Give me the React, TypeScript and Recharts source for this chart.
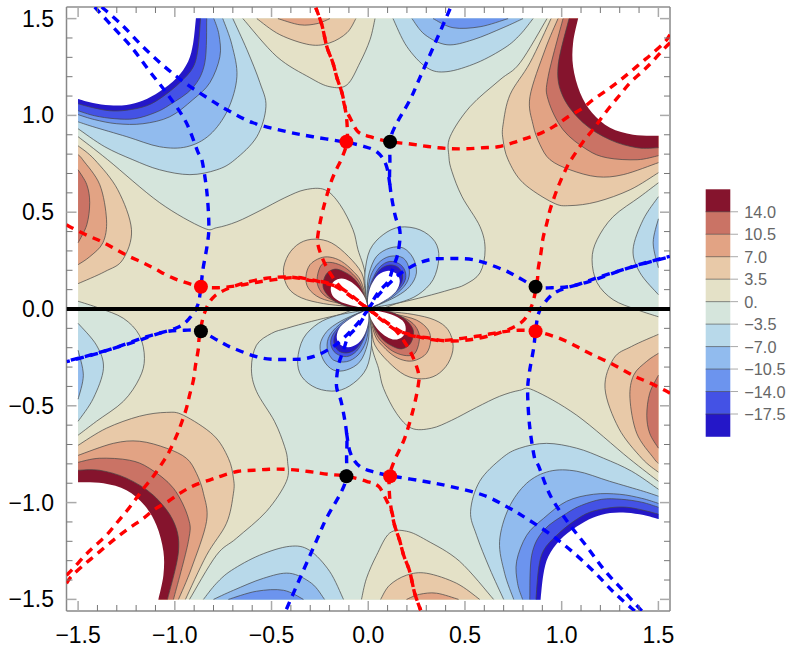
import { ScatterChart, Scatter, XAxis, YAxis } from 'recharts'

type Pt = number[]

// filled contour outlines, as [x, y]
const plotEdge: Pt[] = [[-1.5, 1.5], [1.5, 1.5]]
const plotRest: Pt[] = [[1.5, -1.5], [-1.5, -1.5]]
const cornerTL: Pt[] = [[-1.5, 1.5]]
const cornerTR: Pt[] = [[1.5, 1.5]]
const cornerBL: Pt[] = [[-1.5, -1.5]]
const cornerBR: Pt[] = [[1.5, -1.5]]
const holeTailTL: Pt[] = [[-.891, 1.505], [-1.505, 1.505], [-1.505, 1.085]]
const holeTailTR: Pt[] = [[1.505, .895], [1.505, 1.505], [1.085, 1.505]]
const holeTailBR: Pt[] = [[.891, -1.505], [1.505, -1.505], [1.505, -1.085]]
const holeTailBL: Pt[] = [[-1.505, -.895], [-1.505, -1.505], [-1.085, -1.505]]

const zeroUpper: Pt[] = [[-1.5, .89], [-1.347, .771], [-1.078, .549], [-.855, .42], [-.783, .42], [-.679, .451], [-.56, .508], [-.431, .575], [-.327, .616], [-.224, .616], [-.146, .539], [-.079, .41], [-.053, .306], [-.017, .187], [0, 0], [.164, .033], [.293, .064], [.423, .1], [.5, .126], [.578, .187], [.604, .306], [.578, .425], [.485, .58], [.433, .709], [.417, .787], [.423, .89], [.526, 1.045], [.681, 1.184], [.785, 1.272], [.924, 1.5]]
const zeroLower: Pt[] = [[1.5, -.89], [1.347, -.771], [1.078, -.549], [.855, -.42], [.783, -.42], [.679, -.451], [.56, -.508], [.431, -.575], [.327, -.616], [.224, -.616], [.146, -.539], [.079, -.41], [.053, -.306], [.017, -.187], [0, 0], [-.164, -.033], [-.293, -.064], [-.423, -.1], [-.5, -.126], [-.578, -.187], [-.604, -.306], [-.578, -.425], [-.485, -.58], [-.433, -.709], [-.417, -.787], [-.423, -.89], [-.526, -1.045], [-.681, -1.184], [-.785, -1.272], [-.924, -1.5]]

// top left blue corner and its twin at the bottom right
const tlM35: Pt[] = [[-1.5, .931], [-1.362, .838], [-1.217, .771], [-1.078, .719], [-.922, .694], [-.783, .719], [-.69, .771], [-.576, .89], [-.529, 1.045], [-.56, 1.169], [-.627, 1.339], [-.7, 1.5]]
const tlM7: Pt[] = [[-1.5, .967], [-1.424, .942], [-1.248, .89], [-1.078, .838], [-.938, .838], [-.819, .9], [-.726, 1.029], [-.679, 1.2], [-.705, 1.365], [-.752, 1.5]]
const tlM105: Pt[] = [[-1.5, 1.004], [-1.414, .978], [-1.3, .957], [-1.165, .957], [-1.026, .993], [-.907, 1.081], [-.819, 1.169], [-.767, 1.303], [-.772, 1.417], [-.798, 1.5]]
const tlM14: Pt[] = [[-1.5, 1.024], [-1.414, .998], [-1.31, .983], [-1.207, .983], [-1.103, 1.014], [-1.026, 1.055], [-.907, 1.143], [-.845, 1.272], [-.835, 1.5]]
const tlM175: Pt[] = [[-1.5, 1.06], [-1.424, 1.04], [-1.336, 1.024], [-1.248, 1.027], [-1.145, 1.05], [-1.062, 1.097], [-.974, 1.169], [-.907, 1.246], [-.881, 1.339], [-.867, 1.5]]
const tlHole: Pt[] = [[-1.5, 1.085], [-1.423, 1.064], [-1.336, 1.052], [-1.25, 1.054], [-1.164, 1.077], [-1.078, 1.124], [-.991, 1.193], [-.931, 1.279], [-.905, 1.374], [-.891, 1.5]]
const brM35: Pt[] = [[1.5, -.931], [1.362, -.838], [1.217, -.771], [1.078, -.719], [.922, -.694], [.783, -.719], [.69, -.771], [.576, -.89], [.529, -1.045], [.56, -1.169], [.627, -1.339], [.7, -1.5]]
const brM7: Pt[] = [[1.5, -.967], [1.424, -.942], [1.248, -.89], [1.078, -.838], [.938, -.838], [.819, -.9], [.726, -1.029], [.679, -1.2], [.705, -1.365], [.752, -1.5]]
const brM105: Pt[] = [[1.5, -1.004], [1.414, -.978], [1.3, -.957], [1.165, -.957], [1.026, -.993], [.907, -1.081], [.819, -1.169], [.767, -1.303], [.772, -1.417], [.798, -1.5]]
const brM14: Pt[] = [[1.5, -1.024], [1.414, -.998], [1.31, -.983], [1.207, -.983], [1.103, -1.014], [1.026, -1.055], [.907, -1.143], [.845, -1.272], [.835, -1.5]]
const brM175: Pt[] = [[1.5, -1.06], [1.424, -1.04], [1.336, -1.024], [1.248, -1.027], [1.145, -1.05], [1.062, -1.097], [.974, -1.169], [.907, -1.246], [.881, -1.339], [.867, -1.5]]
const brHole: Pt[] = [[1.5, -1.085], [1.423, -1.064], [1.336, -1.052], [1.25, -1.054], [1.164, -1.077], [1.078, -1.124], [.991, -1.193], [.931, -1.279], [.905, -1.374], [.891, -1.5]]

// top right red corner and its twin at the bottom left
const trP35: Pt[] = [[.945, 1.5], [.836, 1.272], [.733, 1.107], [.697, .952], [.697, .874], [.723, .771], [.8, .652], [.955, .549], [1.043, .534], [1.183, .554], [1.354, .616], [1.5, .704]]
const trP7: Pt[] = [[.981, 1.5], [.914, 1.339], [.836, 1.097], [.852, .952], [.888, .849], [.94, .771], [1.043, .719], [1.183, .683], [1.318, .694], [1.5, .756]]
const trP105: Pt[] = [[1.007, 1.5], [.93, 1.2], [.93, 1.081], [1.007, .926], [1.131, .823], [1.235, .781], [1.39, .771], [1.5, .792]]
const trP14: Pt[] = [[1.038, 1.5], [.981, 1.251], [1.007, 1.097], [1.111, .962], [1.25, .874], [1.39, .833], [1.5, .833]]
const trHole: Pt[] = [[1.085, 1.5], [1.059, 1.375], [1.059, 1.251], [1.095, 1.117], [1.157, 1.014], [1.25, .936], [1.369, .9], [1.5, .895]]
const blP35: Pt[] = [[-.945, -1.5], [-.836, -1.272], [-.733, -1.107], [-.697, -.952], [-.697, -.874], [-.723, -.771], [-.8, -.652], [-.955, -.549], [-1.043, -.534], [-1.183, -.554], [-1.354, -.616], [-1.5, -.704]]
const blP7: Pt[] = [[-.981, -1.5], [-.914, -1.339], [-.836, -1.097], [-.852, -.952], [-.888, -.849], [-.94, -.771], [-1.043, -.719], [-1.183, -.683], [-1.318, -.694], [-1.5, -.756]]
const blP105: Pt[] = [[-1.007, -1.5], [-.93, -1.2], [-.93, -1.081], [-1.007, -.926], [-1.131, -.823], [-1.235, -.781], [-1.39, -.771], [-1.5, -.792]]
const blP14: Pt[] = [[-1.038, -1.5], [-.981, -1.251], [-1.007, -1.097], [-1.111, -.962], [-1.25, -.874], [-1.39, -.833], [-1.5, -.833]]
const blHole: Pt[] = [[-1.085, -1.5], [-1.059, -1.375], [-1.059, -1.251], [-1.095, -1.117], [-1.157, -1.014], [-1.25, -.936], [-1.369, -.9], [-1.5, -.895]]

// lobes that sit on the frame edges
const leftP35: Pt[] = [[-1.5, .843], [-1.414, .771], [-1.295, .616], [-1.224, .41], [-1.269, .255], [-1.362, .193], [-1.5, .131]]
const leftP7: Pt[] = [[-1.5, .797], [-1.476, .771], [-1.388, .642], [-1.353, .461], [-1.372, .342], [-1.44, .27], [-1.5, .229]]
const leftP105: Pt[] = [[-1.5, .719], [-1.455, .642], [-1.44, .549], [-1.455, .435], [-1.5, .342]]
const rightP35: Pt[] = [[1.5, -.843], [1.414, -.771], [1.295, -.616], [1.224, -.41], [1.269, -.255], [1.362, -.193], [1.5, -.131]]
const rightP7: Pt[] = [[1.5, -.797], [1.476, -.771], [1.388, -.642], [1.353, -.461], [1.372, -.342], [1.44, -.27], [1.5, -.229]]
const rightP105: Pt[] = [[1.5, -.719], [1.455, -.642], [1.44, -.549], [1.455, -.435], [1.5, -.342]]

const rightZero: Pt[] = [[1.5, .652], [1.405, .58], [1.266, .477], [1.183, .358], [1.157, .255], [1.183, .136], [1.266, .048], [1.39, -.004], [1.5, -.04]]
const rightM35: Pt[] = [[1.5, .58], [1.421, .461], [1.369, .306], [1.405, .187], [1.5, .074]]
const rightM7: Pt[] = [[1.5, .466], [1.473, .342], [1.5, .213]]
const leftZero: Pt[] = [[-1.5, -.652], [-1.405, -.58], [-1.266, -.477], [-1.183, -.358], [-1.157, -.255], [-1.183, -.136], [-1.266, -.048], [-1.39, .004], [-1.5, .04]]
const leftM35: Pt[] = [[-1.5, -.58], [-1.421, -.461], [-1.369, -.306], [-1.405, -.187], [-1.5, -.074]]
const leftM7: Pt[] = [[-1.5, -.466], [-1.473, -.342], [-1.5, -.213]]

const topZero: Pt[] = [[-.648, 1.5], [-.472, 1.303], [-.302, 1.195], [-.198, 1.148], [-.11, 1.158], [-.043, 1.272], [.009, 1.391], [.035, 1.5]]
const topP35: Pt[] = [[-.576, 1.5], [-.457, 1.417], [-.302, 1.365], [-.198, 1.375], [-.11, 1.427], [-.064, 1.5]]
const topP7: Pt[] = [[-.467, 1.5], [-.353, 1.468], [-.265, 1.474], [-.198, 1.5]]
const topM35: Pt[] = [[.128, 1.5], [.2, 1.355], [.304, 1.246], [.407, 1.226], [.562, 1.272], [.707, 1.35], [.785, 1.417], [.852, 1.5]]
const topM7: Pt[] = [[.226, 1.5], [.293, 1.417], [.407, 1.365], [.542, 1.391], [.697, 1.453], [.8, 1.5]]
const topM105: Pt[] = [[.335, 1.5], [.438, 1.453], [.578, 1.458], [.723, 1.5]]
const botZero: Pt[] = [[.648, -1.5], [.472, -1.303], [.302, -1.195], [.198, -1.148], [.11, -1.158], [.043, -1.272], [-.009, -1.391], [-.035, -1.5]]
const botP35: Pt[] = [[.576, -1.5], [.457, -1.417], [.302, -1.365], [.198, -1.375], [.11, -1.427], [.064, -1.5]]
const botP7: Pt[] = [[.467, -1.5], [.353, -1.468], [.265, -1.474], [.198, -1.5]]
const botM35: Pt[] = [[-.128, -1.5], [-.2, -1.355], [-.304, -1.246], [-.407, -1.226], [-.562, -1.272], [-.707, -1.35], [-.785, -1.417], [-.852, -1.5]]
const botM7: Pt[] = [[-.226, -1.5], [-.293, -1.417], [-.407, -1.365], [-.542, -1.391], [-.697, -1.453], [-.8, -1.5]]
const botM105: Pt[] = [[-.335, -1.5], [-.438, -1.453], [-.578, -1.458], [-.723, -1.5]]

// the four petals round the origin
const ulP35: Pt[] = [[0, 0], [-.017, .1], [-.034, .186], [-.103, .272], [-.189, .341], [-.275, .361], [-.353, .341], [-.413, .28], [-.439, .194], [-.413, .108], [-.344, .057], [-.232, .028], [-.112, .014], [-.017, .003], [0, 0]]
const ulP7: Pt[] = [[0, 0], [-.034, .134], [-.077, .194], [-.138, .246], [-.198, .268], [-.249, .263], [-.301, .229], [-.322, .169], [-.31, .108], [-.249, .057], [-.146, .028], [-.034, .003], [0, 0]]
const ulP105: Pt[] = [[0, 0], [-.04, .126], [-.086, .186], [-.138, .224], [-.198, .241], [-.241, .229], [-.263, .169], [-.258, .114], [-.215, .062], [-.112, .017], [-.034, .003], [0, 0]]
const ulP14: Pt[] = [[0, 0], [-.034, .1], [-.077, .16], [-.129, .194], [-.172, .206], [-.212, .186], [-.232, .143], [-.229, .1], [-.189, .052], [-.12, .017], [-.052, .005], [0, 0]]
const ulHole: Pt[] = [[0, 0], [-.017, .057], [-.052, .108], [-.095, .143], [-.138, .158], [-.177, .143], [-.194, .103], [-.177, .06], [-.12, .028], [-.052, .01], [0, 0]]
const lrP35: Pt[] = [[0, 0], [.017, -.1], [.034, -.186], [.103, -.272], [.189, -.341], [.275, -.361], [.353, -.341], [.413, -.28], [.439, -.194], [.413, -.108], [.344, -.057], [.232, -.028], [.112, -.014], [.017, -.003], [0, 0]]
const lrP7: Pt[] = [[0, 0], [.034, -.134], [.077, -.194], [.138, -.246], [.198, -.268], [.249, -.263], [.301, -.229], [.322, -.169], [.31, -.108], [.249, -.057], [.146, -.028], [.034, -.003], [0, 0]]
const lrP105: Pt[] = [[0, 0], [.04, -.126], [.086, -.186], [.138, -.224], [.198, -.241], [.241, -.229], [.263, -.169], [.258, -.114], [.215, -.062], [.112, -.017], [.034, -.003], [0, 0]]
const lrP14: Pt[] = [[0, 0], [.034, -.1], [.077, -.16], [.129, -.194], [.172, -.206], [.212, -.186], [.232, -.143], [.229, -.1], [.189, -.052], [.12, -.017], [.052, -.005], [0, 0]]
const lrHole: Pt[] = [[0, 0], [.017, -.057], [.052, -.108], [.095, -.143], [.138, -.158], [.177, -.143], [.194, -.103], [.177, -.06], [.12, -.028], [.052, -.01], [0, 0]]
const urM35: Pt[] = [[0, 0], [-.012, .083], [-.017, .186], [.009, .306], [.077, .384], [.163, .423], [.267, .409], [.344, .349], [.365, .263], [.335, .151], [.258, .074], [.163, .034], [.043, .01], [.005, .002], [0, 0]]
const urM7: Pt[] = [[0, 0], [-.005, .1], [.005, .186], [.043, .272], [.112, .315], [.181, .315], [.232, .263], [.249, .186], [.215, .117], [.146, .065], [.043, .017], [0, 0]]
const urM105: Pt[] = [[0, 0], [-.002, .083], [.012, .169], [.052, .237], [.112, .272], [.181, .263], [.212, .203], [.198, .134], [.129, .065], [.034, .014], [0, 0]]
const urM14: Pt[] = [[0, 0], [.002, .083], [.021, .151], [.06, .217], [.112, .246], [.167, .229], [.193, .186], [.184, .134], [.129, .074], [.043, .022], [0, 0]]
const urM175: Pt[] = [[0, 0], [.005, .074], [.026, .151], [.064, .206], [.112, .227], [.155, .215], [.177, .177], [.167, .126], [.112, .065], [.034, .017], [0, 0]]
const urHole: Pt[] = [[0, 0], [0, .065], [.017, .126], [.052, .177], [.103, .198], [.146, .182], [.163, .143], [.143, .091], [.086, .045], [.026, .014], [0, 0]]
const llM35: Pt[] = [[0, 0], [.012, -.083], [.017, -.186], [-.009, -.306], [-.077, -.384], [-.163, -.423], [-.267, -.409], [-.344, -.349], [-.365, -.263], [-.335, -.151], [-.258, -.074], [-.163, -.034], [-.043, -.01], [-.005, -.002], [0, 0]]
const llM7: Pt[] = [[0, 0], [.005, -.1], [-.005, -.186], [-.043, -.272], [-.112, -.315], [-.181, -.315], [-.232, -.263], [-.249, -.186], [-.215, -.117], [-.146, -.065], [-.043, -.017], [0, 0]]
const llM105: Pt[] = [[0, 0], [.002, -.083], [-.012, -.169], [-.052, -.237], [-.112, -.272], [-.181, -.263], [-.212, -.203], [-.198, -.134], [-.129, -.065], [-.034, -.014], [0, 0]]
const llM14: Pt[] = [[0, 0], [-.002, -.083], [-.021, -.151], [-.06, -.217], [-.112, -.246], [-.167, -.229], [-.193, -.186], [-.184, -.134], [-.129, -.074], [-.043, -.022], [0, 0]]
const llM175: Pt[] = [[0, 0], [-.005, -.074], [-.026, -.151], [-.064, -.206], [-.112, -.227], [-.155, -.215], [-.177, -.177], [-.167, -.126], [-.112, -.065], [-.034, -.017], [0, 0]]
const llHole: Pt[] = [[0, 0], [0, -.065], [-.017, -.126], [-.052, -.177], [-.103, -.198], [-.146, -.182], [-.163, -.143], [-.143, -.091], [-.086, -.045], [-.026, -.014], [0, 0]]

// dashed curves
const blueA: Pt[] = [[-1.414, 1.56], [-1.321, 1.458], [-1.222, 1.35], [-1.129, 1.226], [-1.036, 1.107], [-.943, .967], [-.881, .812], [-.86, .771], [-.834, .601], [-.824, .425], [-.834, .322], [-.855, .203], [-.865, .115], [-.881, .022], [-.922, -.045], [-.99, -.097], [-1.145, -.143], [-1.372, -.221], [-1.559, -.272]]
const blueATwin: Pt[] = [[1.414, -1.56], [1.321, -1.458], [1.222, -1.35], [1.129, -1.226], [1.036, -1.107], [.943, -.967], [.881, -.812], [.86, -.771], [.834, -.601], [.824, -.425], [.834, -.322], [.855, -.203], [.865, -.115], [.881, -.022], [.922, .045], [.99, .097], [1.145, .143], [1.372, .221], [1.559, .272]]
const blueB: Pt[] = [[-1.378, 1.56], [-1.274, 1.468], [-1.165, 1.355], [-1.052, 1.251], [-.933, 1.158], [-.793, 1.066], [-.731, 1.029], [-.596, .962], [-.421, .916], [-.286, .89], [-.131, .864], [-.033, .843], [.045, .812], [.092, .745], [.112, .642]]
const blueBTwin: Pt[] = [[1.378, -1.56], [1.274, -1.468], [1.165, -1.355], [1.052, -1.251], [.933, -1.158], [.793, -1.066], [.731, -1.029], [.596, -.962], [.421, -.916], [.286, -.89], [.131, -.864], [.033, -.843], [-.045, -.812], [-.092, -.745], [-.112, -.642]]
const blueC: Pt[] = [[.423, 1.551], [.376, 1.443], [.267, 1.195], [.216, 1.081], [.138, .942], [.112, .864], [.112, .771], [.112, .642], [.138, .487], [.164, .399], [.154, .291], [.128, .213], [.102, .141], [.05, .084], [0, 0]]
const blueCTwin: Pt[] = [[-.423, -1.551], [-.376, -1.443], [-.267, -1.195], [-.216, -1.081], [-.138, -.942], [-.112, -.864], [-.112, -.771], [-.112, -.642], [-.138, -.487], [-.164, -.399], [-.154, -.291], [-.128, -.213], [-.102, -.141], [-.05, -.084], [0, 0]]
const blueD: Pt[] = [[0, 0], [.05, .069], [.128, .151], [.18, .193], [.252, .234], [.319, .255], [.386, .26], [.542, .255], [.697, .203], [.769, .167], [.868, .115], [.95, .11], [1.059, .12], [1.199, .167], [1.405, .229], [1.56, .27]]
const blueDTwin: Pt[] = [[0, 0], [-.05, -.069], [-.128, -.151], [-.18, -.193], [-.252, -.234], [-.319, -.255], [-.386, -.26], [-.542, -.255], [-.697, -.203], [-.769, -.167], [-.868, -.115], [-.95, -.11], [-1.059, -.12], [-1.199, -.167], [-1.405, -.229], [-1.56, -.27]]
const redA: Pt[] = [[1.56, 1.375], [1.524, 1.339], [1.468, 1.277], [1.416, 1.226], [1.354, 1.169], [1.302, 1.107], [1.25, 1.045], [1.199, .978], [1.157, .921], [1.111, .864], [1.059, .787], [1.033, .745], [.992, .657], [.966, .59], [.94, .513], [.924, .446], [.904, .368], [.893, .291], [.878, .203], [.873, .141], [.847, .022], [.795, -.066], [.681, -.122], [.526, -.159], [.397, -.164], [.304, -.148], [.205, -.133], [.112, -.081], [0, 0]]
const redATwin: Pt[] = [[-1.56, -1.375], [-1.524, -1.339], [-1.468, -1.277], [-1.416, -1.226], [-1.354, -1.169], [-1.302, -1.107], [-1.25, -1.045], [-1.199, -.978], [-1.157, -.921], [-1.111, -.864], [-1.059, -.787], [-1.033, -.745], [-.992, -.657], [-.966, -.59], [-.94, -.513], [-.924, -.446], [-.904, -.368], [-.893, -.291], [-.878, -.203], [-.873, -.141], [-.847, -.022], [-.795, .066], [-.681, .122], [-.526, .159], [-.397, .164], [-.304, .148], [-.205, .133], [-.112, .081], [0, 0]]
const redB: Pt[] = [[-1.56, .435], [-1.533, .42], [-1.45, .379], [-1.378, .348], [-1.31, .311], [-1.243, .275], [-1.165, .239], [-1.103, .208], [-1.036, .172], [-.959, .141], [-.865, .115], [-.777, .11], [-.679, .12], [-.56, .141], [-.395, .162], [-.317, .156], [-.234, .136], [-.146, .11], [-.079, .064], [0, 0]]
const redBTwin: Pt[] = [[1.56, -.435], [1.533, -.42], [1.45, -.379], [1.378, -.348], [1.31, -.311], [1.243, -.275], [1.165, -.239], [1.103, -.208], [1.036, -.172], [.959, -.141], [.865, -.115], [.777, -.11], [.679, -.12], [.56, -.141], [.395, -.162], [.317, -.156], [.234, -.136], [.146, -.11], [.079, -.064], [0, 0]]
const redC: Pt[] = [[1.56, 1.417], [1.535, 1.381], [1.473, 1.324], [1.411, 1.272], [1.349, 1.22], [1.292, 1.174], [1.23, 1.128], [1.162, 1.081], [1.105, 1.035], [1.033, .993], [.966, .947], [.899, .911], [.811, .88], [.749, .859], [.671, .838], [.593, .833], [.511, .828], [.433, .828], [.361, .833], [.283, .843], [.205, .854], [.112, .864], [.009, .89], [-.053, .916], [-.089, .978], [-.121, 1.045], [-.136, 1.117], [-.162, 1.195], [-.183, 1.272], [-.214, 1.355], [-.24, 1.468], [-.271, 1.556]]
const redCTwin: Pt[] = [[-1.56, -1.417], [-1.535, -1.381], [-1.473, -1.324], [-1.411, -1.272], [-1.349, -1.22], [-1.292, -1.174], [-1.23, -1.128], [-1.162, -1.081], [-1.105, -1.035], [-1.033, -.993], [-.966, -.947], [-.899, -.911], [-.811, -.88], [-.749, -.859], [-.671, -.838], [-.593, -.833], [-.511, -.828], [-.433, -.828], [-.361, -.833], [-.283, -.843], [-.205, -.854], [-.112, -.864], [-.009, -.89], [.053, -.916], [.089, -.978], [.121, -1.045], [.136, -1.117], [.162, -1.195], [.183, -1.272], [.214, -1.355], [.24, -1.468], [.271, -1.556]]
const redD: Pt[] = [[-.271, 1.556], [-.24, 1.468], [-.214, 1.355], [-.183, 1.272], [-.162, 1.195], [-.136, 1.117], [-.121, 1.045], [-.11, .962], [-.11, .864], [-.136, .781], [-.188, .668], [-.234, .513], [-.26, .384], [-.26, .332], [-.234, .255], [-.198, .187], [-.146, .115], [-.079, .058], [0, 0]]
const redDTwin: Pt[] = [[.271, -1.556], [.24, -1.468], [.214, -1.355], [.183, -1.272], [.162, -1.195], [.136, -1.117], [.121, -1.045], [.11, -.962], [.11, -.864], [.136, -.781], [.188, -.668], [.234, -.513], [.26, -.384], [.26, -.332], [.234, -.255], [.198, -.187], [.146, -.115], [.079, -.058], [0, 0]]

const redPoints: Pt[] = [[-.113, .864], [-.865, .115], [.113, -.864], [.865, -.115]]
const blackPoints: Pt[] = [[.113, .864], [.865, .115], [-.113, -.864], [-.865, -.115]]
const axisLine: Pt[] = [[-1.56, 0], [1.56, 0]]

const tickValues = [-1.5, -1.4, -1.3, -1.2, -1.1, -1, -.9, -.8, -.7, -.6, -.5, -.4, -.3, -.2, -.1, 0, .1, .2, .3, .4, .5, .6, .7, .8, .9, 1, 1.1, 1.2, 1.3, 1.4, 1.5]
const majorLabels: Record<string, string> = { '-1.5': '−1.5', '-1': '−1.0', '-0.5': '−0.5', '0': '0.0', '0.5': '0.5', '1': '1.0', '1.5': '1.5' }

const legendLabels = ['14.0', '10.5', '7.0', '3.5', '0.', '−3.5', '−7.0', '−10.5', '−14.0', '−17.5']
const legendColors = ['#85142d', '#ca7365', '#e2a384', '#e8c9a8', '#e4e1c7', '#d5e5dc', '#b8d9ea', '#91bbee', '#6c94ee', '#4452e5', '#2417c8']

const [c14, c105, c7, c35, cp0, cm0, cm35, cm7, cm105, cm14, cm175] = legendColors

const FONT = '"Liberation Sans", Arial, sans-serif'
const DOMAIN: [number, number] = [-1.56, 1.56]

// [outline, closing corners, fill, draw the contour line]
const bands: [Pt[], Pt[], string, boolean][] = [
  [plotEdge, plotRest, cp0, false],
  [zeroUpper, cornerTL, cm0, true],
  [zeroLower, cornerBR, cm0, true],
  [tlM35, cornerTL, cm35, true], [tlM7, cornerTL, cm7, true], [tlM105, cornerTL, cm105, true], [tlM14, cornerTL, cm14, true], [tlM175, cornerTL, cm175, true], [tlHole, holeTailTL, '#fff', false],
  [brM35, cornerBR, cm35, true], [brM7, cornerBR, cm7, true], [brM105, cornerBR, cm105, true], [brM14, cornerBR, cm14, true], [brM175, cornerBR, cm175, true], [brHole, holeTailBR, '#fff', false],
  [trP35, cornerTR, c35, true], [trP7, cornerTR, c7, true], [trP105, cornerTR, c105, true], [trP14, cornerTR, c14, true], [trHole, holeTailTR, '#fff', false],
  [blP35, cornerBL, c35, true], [blP7, cornerBL, c7, true], [blP105, cornerBL, c105, true], [blP14, cornerBL, c14, true], [blHole, holeTailBL, '#fff', false],
  [leftP35, [], c35, true], [leftP7, [], c7, true], [leftP105, [], c105, true],
  [rightP35, [], c35, true], [rightP7, [], c7, true], [rightP105, [], c105, true],
  [rightZero, [], cm0, true], [rightM35, [], cm35, true], [rightM7, [], cm7, true],
  [leftZero, [], cm0, true], [leftM35, [], cm35, true], [leftM7, [], cm7, true],
  [topZero, [], cp0, true], [topP35, [], c35, true], [topP7, [], c7, true],
  [topM35, [], cm35, true], [topM7, [], cm7, true], [topM105, [], cm105, true],
  [botZero, [], cp0, true], [botP35, [], c35, true], [botP7, [], c7, true],
  [botM35, [], cm35, true], [botM7, [], cm7, true], [botM105, [], cm105, true],
  [ulP35, [], c35, true], [ulP7, [], c7, true], [ulP105, [], c105, true], [ulP14, [], c14, true], [ulHole, [], '#fff', false],
  [lrP35, [], c35, true], [lrP7, [], c7, true], [lrP105, [], c105, true], [lrP14, [], c14, true], [lrHole, [], '#fff', false],
  [urM35, [], cm35, true], [urM7, [], cm7, true], [urM105, [], cm105, true], [urM14, [], cm14, true], [urM175, [], cm175, true], [urHole, [], '#fff', false],
  [llM35, [], cm35, true], [llM7, [], cm7, true], [llM105, [], cm105, true], [llM14, [], cm14, true], [llM175, [], cm175, true], [llHole, [], '#fff', false],
]

const dashed: [Pt[], string][] = [
  [blueA, '#0000ff'], [blueATwin, '#0000ff'], [blueB, '#0000ff'], [blueBTwin, '#0000ff'], [blueC, '#0000ff'], [blueCTwin, '#0000ff'], [blueD, '#0000ff'], [blueDTwin, '#0000ff'],
  [redA, '#ff0000'], [redATwin, '#ff0000'], [redB, '#ff0000'], [redBTwin, '#ff0000'], [redC, '#ff0000'], [redCTwin, '#ff0000'], [redD, '#ff0000'], [redDTwin, '#ff0000'],
]

const rows = (pts: Pt[]) => pts.map(([x, y]) => ({ x, y }))

function smooth(p: { x: number; y: number }[]) {
  let d = `M${p[0].x},${p[0].y}`
  for (let i = 0; i < p.length - 1; i++) {
    const a = p[i - 1] || p[i]
    const b = p[i]
    const c = p[i + 1]
    const e = p[i + 2] || c
    d += `C${b.x + (c.x - a.x) / 6},${b.y + (c.y - a.y) / 6},${c.x - (e.x - b.x) / 6},${c.y - (e.y - b.y) / 6},${c.x},${c.y}`
  }
  return d
}

const noDot = () => <g />

function bandLine(n: number, fill: string, outlined: boolean) {
  return (props: any) => {
    const pts = props.points
    const curve = smooth(pts.slice(0, n))
    const tail = pts.slice(n).map((q: any) => `L${q.x},${q.y}`).join('')
    return (
      <g>
        <path d={curve + tail + 'Z'} fill={fill} stroke="none" />
        {outlined && <path d={curve} fill="none" stroke="#444" strokeOpacity={0.7} strokeWidth={1} />}
      </g>
    )
  }
}

function dashLine(color: string) {
  return (props: any) => <path d={smooth(props.points)} fill="none" stroke={color} strokeWidth={3.4} strokeDasharray="8 6.5" />
}

function tickMark(x1: number, y1: number, x2: number, y2: number, major: boolean) {
  return <line x1={x1} y1={y1} x2={x2} y2={y2} stroke={major ? '#aaa' : '#777'} strokeWidth={major ? 1.5 : 1} />
}

function BottomTick({ x, y, payload }: any) {
  const label = majorLabels[String(payload.value)]
  return (
    <g>
      {tickMark(x, y, x, y - (label ? 10 : 6), !!label)}
      {label && <text x={x} y={y + 32} textAnchor="middle" fontFamily={FONT} fontSize={23} fill="#000">{label}</text>}
    </g>
  )
}
function TopTick({ x, y, payload }: any) {
  const major = !!majorLabels[String(payload.value)]
  return <g>{tickMark(x, y, x, y + (major ? 10 : 6), major)}</g>
}
// the tick at y = 0 sits under the thick black line, so it is left out
function LeftTick({ x, y, payload }: any) {
  const label = majorLabels[String(payload.value)]
  return (
    <g>
      {payload.value !== 0 && tickMark(x, y, x + (label ? 10 : 6), y, !!label)}
      {label && <text x={x - 12.5} y={y + 8} textAnchor="end" fontFamily={FONT} fontSize={23} fill="#000">{label}</text>}
    </g>
  )
}
function RightTick({ x, y, payload }: any) {
  const major = !!majorLabels[String(payload.value)]
  return <g>{payload.value !== 0 && tickMark(x, y, x - (major ? 10 : 6), y, major)}</g>
}

function LegendBar() {
  const cell = 22.47
  return (
    <svg width={797} height={651} style={{ position: 'absolute', left: 0, top: 0, pointerEvents: 'none' }}>
      {legendColors.map((c, i) => (
        <rect key={c} x={705.7} y={189.3 + i * cell} width={24.6} height={cell + 0.3} fill={c} />
      ))}
      {legendLabels.map((t, i) => {
        const y = 189.3 + (i + 1) * cell
        return (
          <g key={t}>
            <line x1={705.7} x2={730.3} y1={y} y2={y} stroke="#444" strokeOpacity={0.6} />
            <line x1={730.3} x2={738} y1={y} y2={y} stroke="#aaa" />
            <text x={744.3} y={y + 6} fontFamily={FONT} fontSize={16.3} fill="#666">{t}</text>
          </g>
        )
      })}
    </svg>
  )
}

export default function App() {
  return (
    <div style={{ position: 'absolute', left: 0, top: 0, width: 797, height: 651 }}>
      <ScatterChart width={797} height={651} margin={{ top: 6, right: 126, bottom: 0, left: 0 }}>
        <XAxis type="number" dataKey="x" domain={DOMAIN} ticks={tickValues} interval={0} height={40} tickSize={0} tickMargin={0} tickLine={false} tick={<BottomTick />} stroke="#888" strokeWidth={1.5} allowDataOverflow />
        <XAxis xAxisId="top" orientation="top" type="number" dataKey="x" domain={DOMAIN} ticks={tickValues} interval={0} height={1} tickSize={0} tickMargin={0} tickLine={false} tick={<TopTick />} stroke="#aaa" strokeWidth={2} allowDataOverflow />
        <YAxis type="number" dataKey="y" domain={DOMAIN} ticks={tickValues} interval={0} width={66.5} tickSize={0} tickMargin={0} tickLine={false} tick={<LeftTick />} stroke="#888" strokeWidth={1.5} allowDataOverflow />
        <YAxis yAxisId="right" orientation="right" type="number" dataKey="y" domain={DOMAIN} ticks={tickValues} interval={0} width={1} tickSize={0} tickMargin={0} tickLine={false} tick={<RightTick />} stroke="#888" strokeWidth={1.5} allowDataOverflow />
        {bands.map(([pts, corner, fill, outlined], i) => (
          <Scatter key={i} data={rows([...pts, ...corner])} shape={noDot} line={bandLine(pts.length, fill, outlined)} isAnimationActive={false} />
        ))}
        {dashed.map(([pts, color], i) => (
          <Scatter key={`d${i}`} data={rows(pts)} shape={noDot} line={dashLine(color)} isAnimationActive={false} />
        ))}
        <Scatter data={rows(axisLine)} shape={noDot} line={{ stroke: '#000', strokeWidth: 4 }} isAnimationActive={false} />
        <Scatter data={rows(redPoints)} isAnimationActive={false} shape={(p: any) => <circle cx={p.cx} cy={p.cy} r={7} fill="#ff0000" />} />
        <Scatter data={rows(blackPoints)} isAnimationActive={false} shape={(p: any) => <circle cx={p.cx} cy={p.cy} r={7} fill="#000" />} />
      </ScatterChart>
      <LegendBar />
    </div>
  )
}
